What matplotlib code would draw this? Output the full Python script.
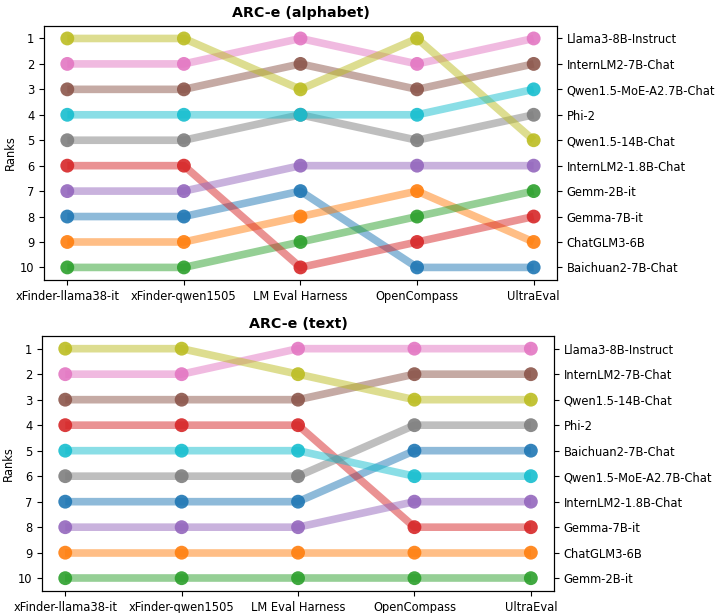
import matplotlib
matplotlib.use("Agg")
import matplotlib.pyplot as plt

plt.rcParams["font.size"] = 8.3

evaluators = ["xFinder-llama38-it", "xFinder-qwen1505", "LM Eval Harness", "OpenCompass", "UltraEval"]
models = ["Baichuan2-7B-Chat", "ChatGLM3-6B", "Gemm-2B-it", "Gemma-7B-it", "InternLM2-1.8B-Chat",
          "InternLM2-7B-Chat", "Llama3-8B-Instruct", "Phi-2", "Qwen1.5-14B-Chat", "Qwen1.5-MoE-A2.7B-Chat"]

# ranks per model, one value per evaluator
ranks_alphabet = {
    "Baichuan2-7B-Chat": [8, 8, 7, 10, 10],
    "ChatGLM3-6B": [9, 9, 8, 7, 9],
    "Gemm-2B-it": [10, 10, 9, 8, 7],
    "Gemma-7B-it": [6, 6, 10, 9, 8],
    "InternLM2-1.8B-Chat": [7, 7, 6, 6, 6],
    "InternLM2-7B-Chat": [3, 3, 2, 3, 2],
    "Llama3-8B-Instruct": [2, 2, 1, 2, 1],
    "Phi-2": [5, 5, 4, 5, 4],
    "Qwen1.5-14B-Chat": [1, 1, 3, 1, 5],
    "Qwen1.5-MoE-A2.7B-Chat": [4, 4, 4, 4, 3],
}
ranks_text = {
    "Baichuan2-7B-Chat": [7, 7, 7, 5, 5],
    "ChatGLM3-6B": [9, 9, 9, 9, 9],
    "Gemm-2B-it": [10, 10, 10, 10, 10],
    "Gemma-7B-it": [4, 4, 4, 8, 8],
    "InternLM2-1.8B-Chat": [8, 8, 8, 7, 7],
    "InternLM2-7B-Chat": [3, 3, 3, 2, 2],
    "Llama3-8B-Instruct": [2, 2, 1, 1, 1],
    "Phi-2": [6, 6, 6, 4, 4],
    "Qwen1.5-14B-Chat": [1, 1, 2, 3, 3],
    "Qwen1.5-MoE-A2.7B-Chat": [5, 5, 5, 6, 6],
}

colors = plt.get_cmap("tab10").colors


def bump(ax, ranks, title):
    x = range(len(evaluators))
    for i, m in enumerate(models):
        ax.plot(x, ranks[m], color=colors[i], lw=5.5, alpha=0.5, solid_capstyle="butt")
        ax.scatter(x, ranks[m], color=colors[i], s=100, alpha=0.9, zorder=3, edgecolors="none")
    ax.set_ylim(10.5, 0.5)
    ax.set_xlim(-0.2, 4.2)
    ax.set_yticks(range(1, 11))
    ax.set_ylabel("Ranks", labelpad=2)
    ax.set_xticks(list(x))
    ax.set_xticklabels(evaluators)
    ax.set_title(title, fontweight="bold", fontsize=10.3)
    # right side labels: model names ordered by last column rank
    final = sorted(models, key=lambda m: ranks[m][-1])
    ax2 = ax.twinx()
    ax2.set_ylim(10.5, 0.5)
    ax2.set_yticks(range(1, 11))
    ax2.set_yticklabels(final)


fig = plt.figure(figsize=(7.15, 6.13), dpi=100)
ax1 = fig.add_axes([0.0615, 0.543, 0.7175, 0.415])
ax2 = fig.add_axes([0.0587, 0.036, 0.7163, 0.416])
bump(ax1, ranks_alphabet, "ARC-e (alphabet)")
bump(ax2, ranks_text, "ARC-e (text)")
fig.savefig("out.png", dpi=100)
